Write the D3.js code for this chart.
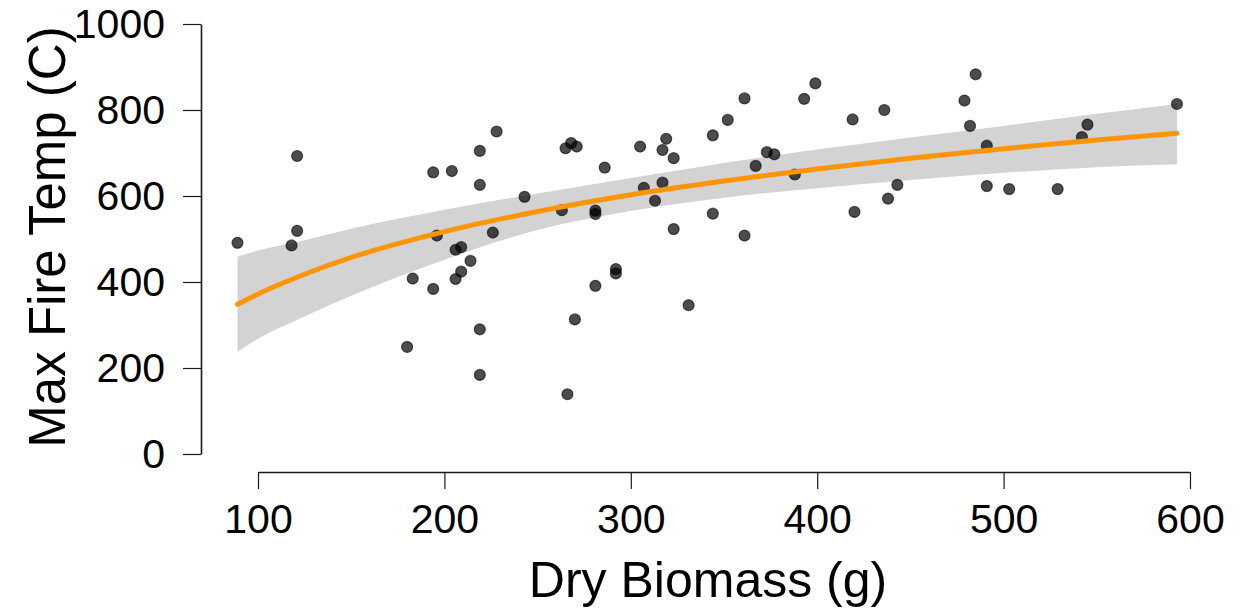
<!DOCTYPE html>
<html>
<head>
<meta charset="utf-8">
<script src="https://cdn.jsdelivr.net/npm/d3@7"></script>
<style>
  body { margin: 0; background: #fff; }
  svg { display: block; font-family: "Liberation Sans", Arial, Helvetica, sans-serif; }
  .axis path, .axis line { stroke: #1a1a1a; }
  .axis text { fill: #000; font-size: 41px; }
  .title { font-size: 50px; fill: #000; }
</style>
</head>
<body>
<div id="chart"></div>
<script>

// dry biomass (g) / max fire temp (C)
var biomass = [89, 118, 121, 121, 180, 183, 194, 194, 204, 196, 206, 209, 214, 209, 206,
  219, 219, 219, 219, 226, 228, 243, 263, 265, 268, 271, 286, 281, 281, 281,
  270, 266, 292, 292, 305, 307, 313, 317, 317, 319, 323, 323, 331, 344, 344,
  352, 361, 361, 367, 373, 377, 388, 393, 399, 419, 420, 436, 438, 443, 479,
  485, 482, 491, 491, 503, 529, 542, 545, 593]

var temp = [491, 485, 519, 693, 249, 408, 384, 655, 658, 508, 475, 481, 449, 424, 407,
  705, 626, 290, 184, 515, 750, 598, 567, 711, 723, 715, 666, 566, 558, 391,
  313, 139, 430, 420, 715, 619, 589, 631, 707, 733, 688, 523, 346, 741, 559,
  777, 827, 508, 670, 702, 697, 650, 826, 862, 778, 563, 800, 594, 626, 822,
  883, 763, 717, 623, 616, 616, 737, 766, 814]

// fitted curve and its confidence band
var fitX  = [89, 100, 125, 150, 200, 250, 300, 350, 400, 450, 500, 550, 593]
var fitY  = [348, 372, 418, 457, 517, 564, 603, 635, 663, 688, 710, 730, 746]
var ciLow = [238, 268, 320, 368, 452, 521, 565, 596, 618, 637, 654, 667, 674]
var ciHigh = [459, 473, 497, 524, 568, 606, 642, 677, 708, 736, 763, 791, 814]

var xTicks = [100, 200, 300, 400, 500, 600]
var yTicks = [0, 200, 400, 600, 800, 1000]

var width = 1255, height = 612

var svg = d3.select('#chart').append('svg')
  .attr('width', width)
  .attr('height', height)

var x = d3.scaleLinear().domain([100, 600]).range([258, 1190])
var y = d3.scaleLinear().domain([0, 1000]).range([454, 24])

var points = biomass.map(function(d, i){ return {x: d, y: temp[i]} })
var fit = fitX.map(function(d, i){ return {x: d, y: fitY[i], lo: ciLow[i], hi: ciHigh[i]} })

var band = d3.area()
  .x(function(d){ return x(d.x) })
  .y0(function(d){ return y(d.lo) })
  .y1(function(d){ return y(d.hi) })
  .curve(d3.curveMonotoneX)

var line = d3.line()
  .x(function(d){ return x(d.x) })
  .y(function(d){ return y(d.y) })
  .curve(d3.curveMonotoneX)

svg.append('path')
  .attr('d', band(fit))
  .attr('fill', '#d3d3d3')

svg.append('g').selectAll('circle')
  .data(points)
  .enter().append('circle')
  .attr('cx', function(d){ return x(d.x) })
  .attr('cy', function(d){ return y(d.y) })
  .attr('r', 5.5)
  .attr('fill', 'rgba(0,0,0,0.7)')
  .attr('stroke', 'rgba(0,0,0,0.6)')
  .attr('stroke-width', 1.2)

svg.append('path')
  .attr('d', line(fit))
  .attr('fill', 'none')
  .attr('stroke', '#ff9505')
  .attr('stroke-width', 5)
  .attr('stroke-linecap', 'round')

svg.append('g')
  .attr('class', 'axis')
  .attr('transform', 'translate(201,0)')
  .call(d3.axisLeft(y).tickValues(yTicks).tickFormat(d3.format('d'))
    .tickSize(18).tickSizeOuter(0).tickPadding(18))

svg.append('g')
  .attr('class', 'axis')
  .attr('transform', 'translate(0,472)')
  .call(d3.axisBottom(x).tickValues(xTicks).tickFormat(d3.format('d'))
    .tickSize(17).tickSizeOuter(0).tickPadding(15))

svg.selectAll('.axis .domain').attr('stroke-width', 1.6)
svg.selectAll('.axis .tick line').attr('stroke-width', 1.2)
svg.selectAll('.axis text').attr('font-family', null).attr('font-size', null)

svg.append('text')
  .attr('class', 'title')
  .attr('x', 708)
  .attr('y', 597)
  .attr('text-anchor', 'middle')
  .text('Dry Biomass (g)')

svg.append('text')
  .attr('class', 'title')
  .attr('transform', 'translate(65,237) rotate(-90)')
  .attr('text-anchor', 'middle')
  .style('font-size', '51px')
  .text('Max Fire Temp (C)')

</script>
</body>
</html>
